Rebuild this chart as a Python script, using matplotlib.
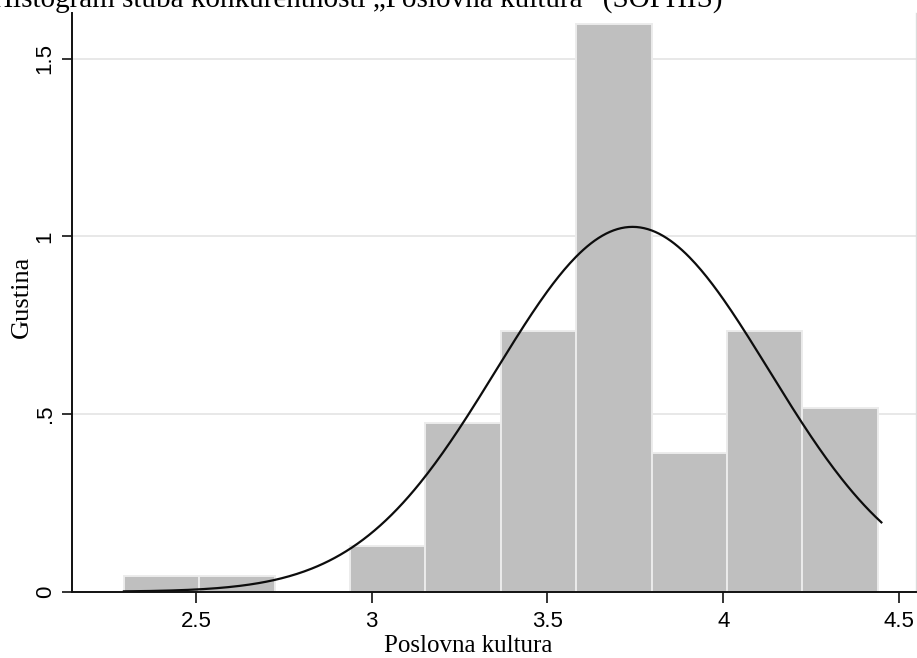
import numpy as np
import matplotlib
matplotlib.use("Agg")
import matplotlib.pyplot as plt

# Histogram of "Poslovna kultura" scores (density scale) with a normal overlay
bin_min = 2.295
bin_max = 4.44
n_bins = 10
densities = [0.043, 0.043, 0.0, 0.13, 0.475, 0.734, 1.597, 0.389, 0.734, 0.518]

# fitted normal curve parameters
curve_mean = 3.742
curve_sd = 0.3885
curve_start = 2.295
curve_end = 4.45

x_ticks = [2.5, 3, 3.5, 4, 4.5]
x_tick_labels = ["2.5", "3", "3.5", "4", "4.5"]
y_ticks = [0, 0.5, 1, 1.5]
y_tick_labels = ["0", ".5", "1", "1.5"]

title_text = "Histogram stuba konkurentnosti \u201ePoslovna kultura\u201c (SOPHIS)"
x_label = "Poslovna kultura"
y_label = "Gustina"

W, H = 917, 658
fig = plt.figure(figsize=(W / 100, H / 100), dpi=100)
ax_left, ax_right, ax_bottom, ax_top = 71.7, 916, 591.7, 12.6
ax = fig.add_axes([ax_left / W, 1 - ax_bottom / H,
                   (ax_right - ax_left) / W, (ax_bottom - ax_top) / H])

edges = np.linspace(bin_min, bin_max, n_bins + 1)
widths = np.diff(edges)

# grid lines behind everything
for yv in y_ticks[1:]:
    ax.axhline(yv, color="#e4e4e4", lw=1.2, zorder=0)

ax.bar(edges[:-1], densities, width=widths, align="edge",
       color="#bfbfbf", edgecolor="#ececec", linewidth=1.4, zorder=2)

xs = np.linspace(curve_start, curve_end, 400)
ys = np.exp(-0.5 * ((xs - curve_mean) / curve_sd) ** 2) / (curve_sd * np.sqrt(2 * np.pi))
ax.plot(xs, ys, color="#0d0d0d", lw=1.6, zorder=3)

ax.set_xlim(2.1465, 4.5485)
ax.set_ylim(0, 1.63)

ax.spines["top"].set_visible(False)
ax.spines["right"].set_color("#dcdcdc")
ax.spines["right"].set_linewidth(1.0)
for s in ("left", "bottom"):
    ax.spines[s].set_color("#111111")
    ax.spines[s].set_linewidth(1.4)
    ax.spines[s].set_zorder(4)

sans = ["Liberation Sans", "DejaVu Sans"]
serif = ["Liberation Serif", "DejaVu Serif"]

ax.set_xticks(x_ticks)
ax.set_xticklabels(x_tick_labels, family=sans, fontsize=16)
ax.set_yticks(y_ticks)
ax.set_yticklabels(y_tick_labels, family=sans, fontsize=16, rotation=90, va="center")
ax.tick_params(axis="x", direction="out", length=8, width=1.2, color="#111111", pad=6)
ax.tick_params(axis="y", direction="out", length=7.5, width=1.2, color="#111111", pad=4)

ax.set_xlabel(x_label, family=serif, fontsize=18)
ax.xaxis.set_label_coords((468 - ax_left) / (ax_right - ax_left), -(652 - ax_bottom) / (ax_bottom - ax_top))
ax.xaxis.label.set_va("baseline")
ax.set_ylabel(y_label, family=serif, fontsize=19)
ax.yaxis.set_label_coords(-(ax_left - 22) / (ax_right - ax_left), (ax_bottom - 297) / (ax_bottom - ax_top))
ax.yaxis.label.set_va("center")

fig.text(-8 / W, 1 - 7 / H, title_text, family=serif, fontsize=21,
         ha="left", va="baseline")

fig.savefig("out.png", dpi=100)
